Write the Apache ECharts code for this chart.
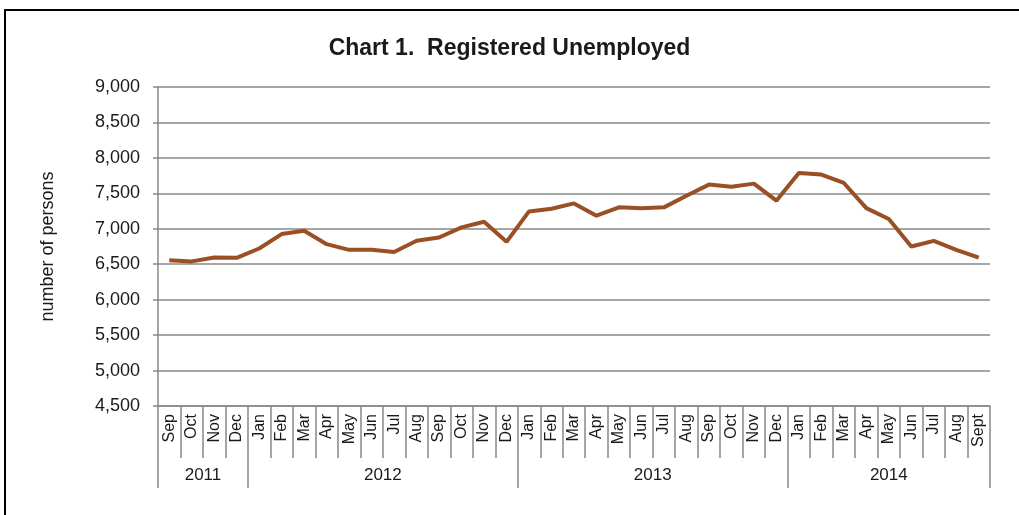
<!DOCTYPE html>
<html><head><meta charset="utf-8">
<script src="https://cdn.jsdelivr.net/npm/echarts@6/dist/echarts.min.js"></script>
<style>html,body{margin:0;padding:0;background:#fff}#c{width:1019px;height:515px}</style>
</head><body><div id="c"></div>
<script>
const months = ['Sep','Oct','Nov','Dec','Jan','Feb','Mar','Apr','May','Jun','Jul','Aug','Sep','Oct','Nov','Dec','Jan','Feb','Mar','Apr','May','Jun','Jul','Aug','Sep','Oct','Nov','Dec','Jan','Feb','Mar','Apr','May','Jun','Jul','Aug','Sept'];
const unemployed = [6557,6540,6594,6590,6722,6925,6972,6783,6703,6703,6672,6830,6877,7019,7099,6816,7245,7283,7358,7184,7302,7288,7302,7467,7623,7592,7637,7396,7788,7764,7646,7292,7137,6750,6830,6703,6594];
const years = ['2011','2012','2013','2014'];
const yearMonthCounts = [4,12,12,9];
const yTicks = {min:4500, max:9000, interval:500};

// year axis at half-month resolution so group centres and boundaries fall on points
const nHalf = months.length*2 + 1;
const yearAxisData = new Array(nHalf).fill('');
const boundaries = [0];
let acc = 0;
yearMonthCounts.forEach((c,i)=>{ yearAxisData[2*acc + c] = years[i]; acc += c; boundaries.push(acc*2); });
const bset = new Set(boundaries);

const chart = echarts.init(document.getElementById('c'));
const font = 'Liberation Sans, Arial, sans-serif';
chart.setOption({
  animation:false,
  title:{text:'Chart 1.  Registered Unemployed', left:'center', top:32,
    textStyle:{fontFamily:font, fontSize:23, fontWeight:'bold', color:'#1a1a1a'}},
  graphic:[{type:'rect', shape:{x:5,y:10,width:1100,height:700}, style:{fill:'none', stroke:'#000', lineWidth:2}, silent:true}],
  grid:{left:158, right:29, top:87, bottom:109, containLabel:false},
  xAxis:[{
    type:'category', data:months, boundaryGap:true, position:'bottom',
    axisLine:{lineStyle:{color:'#888', width:1.5}},
    axisTick:{show:true, interval:0, length:52, lineStyle:{color:'#888', width:1.5}},
    axisLabel:{interval:0, rotate:90, fontFamily:font, fontSize:16, color:'#1a1a1a', margin:8}
  },{
    type:'category', data:yearAxisData, boundaryGap:false, position:'bottom', offset:52,
    axisLine:{show:false},
    axisTick:{show:true, length:30, interval:(i)=>bset.has(i), lineStyle:{color:'#888', width:1.5}},
    axisLabel:{interval:0, fontFamily:font, fontSize:17, color:'#1a1a1a', margin:9}
  }],
  yAxis:{type:'value', min:yTicks.min, max:yTicks.max, interval:yTicks.interval,
    name:'number of persons', nameLocation:'middle', nameGap:101, nameRotate:90,
    nameTextStyle:{fontFamily:font, fontSize:18, color:'#1a1a1a'},
    axisLine:{show:true, lineStyle:{color:'#888', width:1.5}},
    axisTick:{show:true, length:5, lineStyle:{color:'#888', width:1.5}},
    axisLabel:{fontFamily:font, fontSize:18, color:'#1a1a1a', margin:18,
      formatter:v=>v.toLocaleString('en-US')},
    splitLine:{lineStyle:{color:'#888', width:1.5}}
  },
  series:[{type:'line', data:unemployed, xAxisIndex:0, symbol:'none',
    lineStyle:{color:'#9a4f24', width:4}, itemStyle:{color:'#9a4f24'}}]
});
</script></body></html>
